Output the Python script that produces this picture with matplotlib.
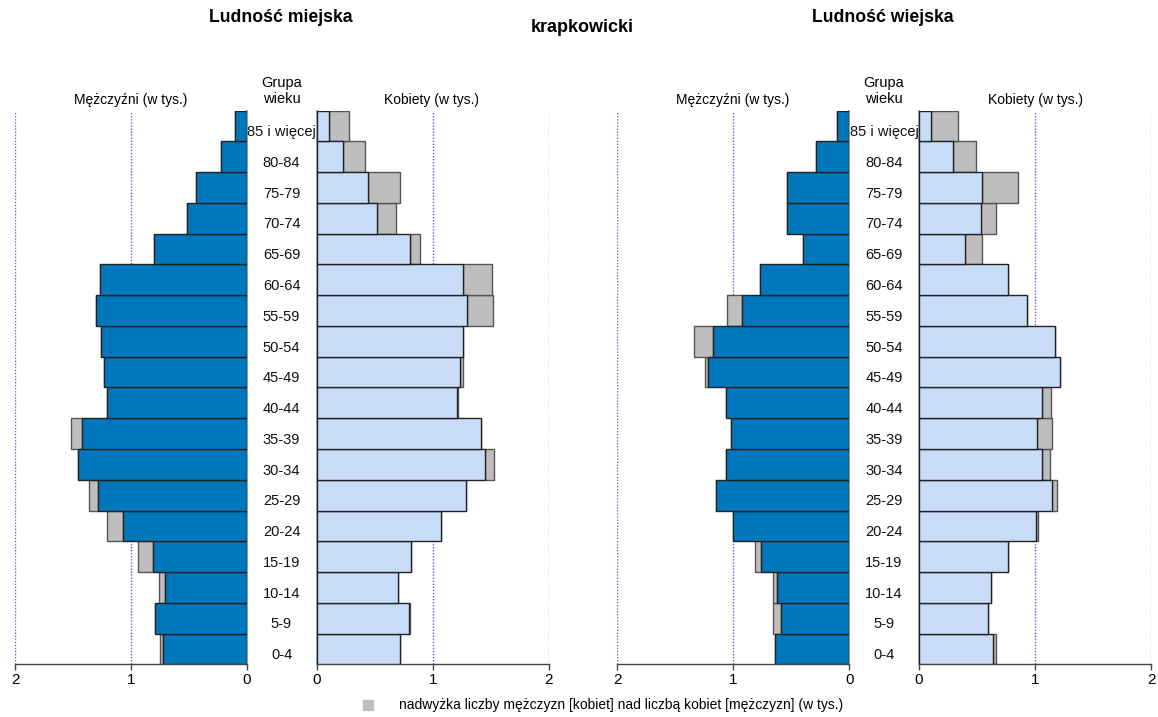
import numpy as np
import matplotlib
matplotlib.use("Agg")
import matplotlib.pyplot as plt
from matplotlib import transforms

plt.rcParams['font.family'] = ['Liberation Sans', 'DejaVu Sans']

# age groups, bottom to top
ages = ['0-4', '5-9', '10-14', '15-19', '20-24', '25-29', '30-34', '35-39', '40-44',
        '45-49', '50-54', '55-59', '60-64', '65-69', '70-74', '75-79', '80-84', '85 i więcej']

# population in thousands, bottom (0-4) to top (85+)
urban_men = [0.747, 0.793, 0.761, 0.937, 1.207, 1.36, 1.455, 1.515, 1.21,
             1.235, 1.258, 1.30, 1.265, 0.80, 0.52, 0.443, 0.228, 0.105]
urban_women = [0.722, 0.80, 0.705, 0.81, 1.07, 1.287, 1.53, 1.42, 1.22,
               1.265, 1.265, 1.52, 1.515, 0.893, 0.685, 0.72, 0.42, 0.28]
rural_men = [0.637, 0.66, 0.66, 0.81, 1.005, 1.147, 1.06, 1.016, 1.06,
             1.242, 1.34, 1.05, 0.767, 0.40, 0.533, 0.54, 0.29, 0.104]
rural_women = [0.66, 0.592, 0.622, 0.765, 1.03, 1.19, 1.126, 1.143, 1.135,
               1.216, 1.172, 0.927, 0.77, 0.547, 0.663, 0.85, 0.495, 0.337]

BLUE = '#0077bd'
LIGHT = '#c8dcf7'
GREY = '#bebebe'
GRID = '#5a5aff'

W, H = 1158, 717
fig = plt.figure(figsize=(W / 100, H / 100), dpi=100)

bottom = 1 - 664.3 / H
height = 553.6 / H
pw = 232 / W


def panel(left_px, own, other, color, men):
    ax = fig.add_axes([left_px / W, bottom, pw, height])
    own = np.array(own)
    other = np.array(other)
    y = np.arange(len(own))
    base = np.minimum(own, other)
    extra = np.clip(own - other, 0, None)
    for x in (1, 2):
        ax.axvline(x, color=GRID, lw=1, ls=(0, (1, 1.2)), zorder=0)
    ax.barh(y, extra, left=base, height=1, color=GREY, edgecolor='#555555', lw=1, zorder=2)
    ax.barh(y, base, height=1, color=color, edgecolor='#222222', lw=1, zorder=3)
    ax.set_ylim(-0.5, len(own) - 0.5)
    if men:
        ax.set_xlim(2, 0)
    else:
        ax.set_xlim(0, 2)
    ax.set_xticks([0, 1, 2])
    ax.set_xticklabels(['0', '1', '2'])
    ax.set_yticks([])
    for s in ('top', 'left', 'right'):
        ax.spines[s].set_visible(False)
    ax.spines['bottom'].set_color('#444444')
    ax.spines['bottom'].set_linewidth(1)
    side = 'right' if men else 'left'
    ax.spines[side].set_visible(True)
    ax.spines[side].set_color('#888888')
    ax.spines[side].set_linewidth(1.2)
    ax.tick_params(axis='x', length=4, width=1, color='#444444', labelsize=11, pad=2)
    ax.set_facecolor('none')
    return ax


a1 = panel(15, urban_men, urban_women, BLUE, True)
a2 = panel(316.7, urban_women, urban_men, LIGHT, False)
a3 = panel(617.3, rural_men, rural_women, BLUE, True)
a4 = panel(919, rural_women, rural_men, LIGHT, False)

# age labels between panels
for ax, cx in ((a1, 281.5), (a3, 884)):
    tr = transforms.blended_transform_factory(fig.transFigure, ax.transData)
    for i, lab in enumerate(ages):
        ax.text(cx / W, i - 0.2, lab, transform=tr, ha='center', va='center',
                fontsize=10.5, color='#111111')
    fig.text(cx / W, 1 - 91 / H, 'Grupa\nwieku', ha='center', va='center',
             fontsize=10.5, linespacing=1.1)

for cx in (131, 733):
    fig.text(cx / W, 1 - 100 / H, 'Mężczyźni (w tys.)', ha='center', va='center', fontsize=10)
for cx in (432, 1035):
    fig.text(cx / W, 1 - 100 / H, 'Kobiety (w tys.)', ha='center', va='center', fontsize=10)

fig.text(281 / W, 1 - 18 / H, 'Ludność miejska', ha='center', va='center',
         fontsize=12.7, fontweight='bold')
fig.text(883 / W, 1 - 18 / H, 'Ludność wiejska', ha='center', va='center',
         fontsize=12.7, fontweight='bold')
fig.text(582 / W, 1 - 28 / H, 'krapkowicki', ha='center', va='center',
         fontsize=13, fontweight='bold')

# legend
fig.patches.append(plt.Rectangle((363 / W, 1 - 710 / H), 10 / W, 10 / H,
                                 transform=fig.transFigure, color=GREY))
fig.text(399 / W, 1 - 705 / H,
         'nadwyżka liczby mężczyzn [kobiet] nad liczbą kobiet [mężczyzn] (w tys.)',
         ha='left', va='center', fontsize=10)

fig.savefig('out.png', dpi=100)
